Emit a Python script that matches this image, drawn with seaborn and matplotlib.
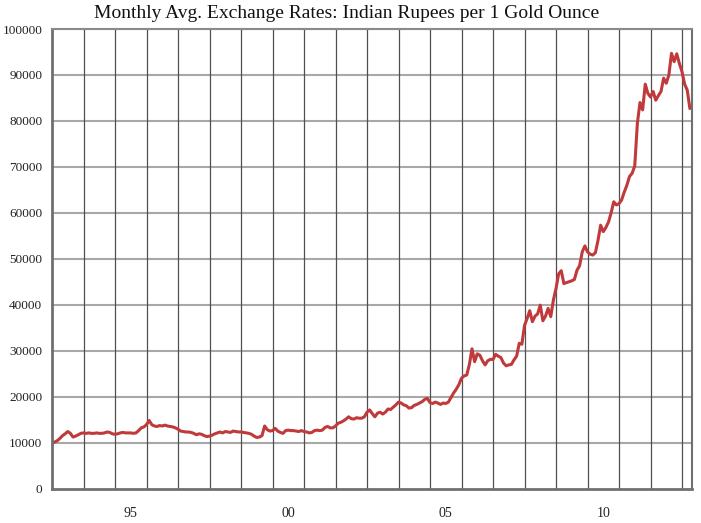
import matplotlib
matplotlib.use("Agg")
import matplotlib.pyplot as plt
import seaborn as sns
import numpy as np
import pandas as pd

# Monthly average INR per gold ounce (thousands), Jan 1993 .. Apr 2013
start_year = 1993
rates_1993 = [9.8, 10.1, 10.4, 10.9, 11.5, 11.9, 12.4, 12.0, 11.2, 11.4, 11.7, 12.0]
rates_1994 = [12.1, 12.0, 12.1, 12.0, 12.0, 12.1, 12.0, 12.0, 12.1, 12.3, 12.2, 11.9]
rates_1995 = [11.8, 11.9, 12.1, 12.2, 12.1, 12.1, 12.1, 12.0, 12.1, 12.6, 13.2, 13.4]
rates_1996 = [13.9, 14.8, 13.9, 13.6, 13.5, 13.7, 13.6, 13.8, 13.6, 13.5, 13.4, 13.2]
rates_1997 = [12.9, 12.5, 12.4, 12.3, 12.3, 12.2, 12.0, 11.7, 11.9, 11.8, 11.5, 11.3]
rates_1998 = [11.4, 11.6, 11.9, 12.1, 12.3, 12.1, 12.4, 12.3, 12.2, 12.5, 12.4, 12.3]
rates_1999 = [12.3, 12.2, 12.1, 12.0, 11.8, 11.4, 11.1, 11.2, 11.5, 13.6, 12.8, 12.5]
rates_2000 = [12.6, 13.1, 12.5, 12.2, 12.0, 12.6, 12.7, 12.6, 12.6, 12.5, 12.4, 12.6]
rates_2001 = [12.4, 12.3, 12.1, 12.2, 12.6, 12.7, 12.6, 12.7, 13.3, 13.5, 13.2, 13.2]
rates_2002 = [13.6, 14.2, 14.4, 14.7, 15.1, 15.6, 15.2, 15.1, 15.4, 15.3, 15.3, 15.6]
rates_2003 = [16.6, 17.1, 16.3, 15.6, 16.4, 16.6, 16.2, 16.6, 17.3, 17.2, 17.7, 18.2]
rates_2004 = [18.8, 18.6, 18.2, 18.0, 17.5, 17.6, 18.1, 18.3, 18.6, 18.9, 19.4, 19.6]
rates_2005 = [18.7, 18.5, 18.8, 18.6, 18.3, 18.6, 18.5, 18.8, 19.8, 20.8, 21.6, 22.6]
rates_2006 = [24.0, 24.5, 24.7, 27.0, 30.4, 27.6, 29.3, 29.0, 27.8, 26.9, 27.8, 28.1]
rates_2007 = [28.1, 29.2, 28.8, 28.5, 27.3, 26.7, 26.9, 27.0, 28.0, 28.8, 31.6, 31.4]
rates_2008 = [35.5, 37.0, 38.7, 36.3, 37.5, 38.0, 39.9, 36.5, 37.5, 39.2, 37.4, 41.0]
rates_2009 = [43.5, 46.7, 47.4, 44.6, 44.8, 45.0, 45.2, 45.5, 47.5, 48.5, 51.5, 52.8]
rates_2010 = [51.5, 51.0, 50.8, 51.3, 54.0, 57.3, 55.9, 56.8, 58.0, 60.0, 62.4, 61.7]
rates_2011 = [62.0, 62.8, 64.5, 66.0, 67.9, 68.6, 70.2, 79.5, 84.0, 82.4, 88.0, 86.0]
rates_2012 = [85.2, 86.4, 84.5, 85.5, 86.4, 89.3, 88.2, 90.0, 94.7, 92.9, 94.6, 92.5]
rates_2013 = [90.7, 88.0, 86.7, 82.7]

y_ticks = list(range(0, 100001, 10000))
x_label_years = [1995, 2000, 2005, 2010]
x_label_texts = ["95", "00", "05", "10"]

all_rates = (rates_1993 + rates_1994 + rates_1995 + rates_1996 + rates_1997 + rates_1998 +
             rates_1999 + rates_2000 + rates_2001 + rates_2002 + rates_2003 + rates_2004 +
             rates_2005 + rates_2006 + rates_2007 + rates_2008 + rates_2009 + rates_2010 +
             rates_2011 + rates_2012 + rates_2013)
df = pd.DataFrame({
    "t": start_year + np.arange(len(all_rates)) / 12.0,
    "rate": np.array(all_rates) * 1000.0,
})

sns.set_theme(style="white")
plt.rcParams["font.family"] = ["Liberation Serif", "DejaVu Serif"]

W, H = 701, 523
fig = plt.figure(figsize=(W / 100, H / 100), dpi=100)
L, R, T, B = 52, 692, 29, 488.5
ax = fig.add_axes([L / W, 1 - B / H, (R - L) / W, (B - T) / H])

sns.lineplot(data=df, x="t", y="rate", ax=ax, color="#c0393b", linewidth=2.2)

ax.set_xlim(start_year, start_year + (R - L) / 31.5)
ax.set_ylim(0, 100000)

ax.set_yticks(y_ticks)
ax.set_yticklabels([str(v) for v in y_ticks])
major_years = list(range(1994, 2014))
ax.set_xticks(major_years)
ax.set_xticklabels([""] * len(major_years))
ax.set_xticks([y + 0.5 for y in x_label_years], minor=True)
ax.set_xticklabels(x_label_texts, minor=True)

ax.tick_params(axis="x", which="major", length=5, width=1, color="#606060", direction="out")
ax.tick_params(axis="x", which="minor", length=0, pad=13, labelsize=10, labelcolor="#222222")
ax.tick_params(axis="y", which="major", length=4, width=1, color="#808080", direction="out",
               pad=3, labelsize=9.5, labelcolor="#222222")

ax.grid(False)
for yv in y_ticks[1:]:
    ax.axhline(yv, color="#a8a8a8", linewidth=1.5, zorder=0)
for xv in major_years:
    ax.axvline(xv, color="#505050", linewidth=0.9, zorder=0)

for side in ["left", "bottom"]:
    ax.spines[side].set_color("#707070")
    ax.spines[side].set_linewidth(2.0)
ax.spines["top"].set_color("#8a8a8a")
ax.spines["top"].set_linewidth(1.5)
ax.spines["right"].set_color("#707070")
ax.spines["right"].set_linewidth(1.5)

ax.set_xlabel("")
ax.set_ylabel("")

fig.text(0.495, 1 - 13 / H, "Monthly Avg. Exchange Rates: Indian Rupees per 1 Gold Ounce",
         ha="center", va="center", fontsize=14, color="#111111")

fig.savefig("out.png", dpi=100)
